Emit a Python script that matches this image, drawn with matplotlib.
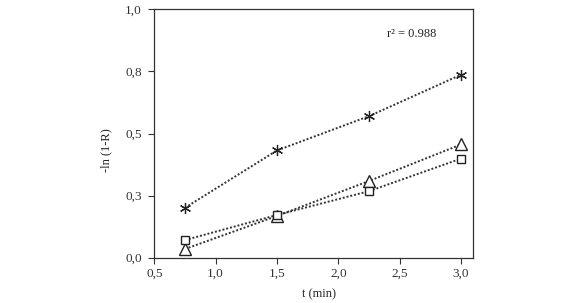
import matplotlib
matplotlib.use('Agg')
import matplotlib.pyplot as plt

t = [0.75, 1.5, 2.25, 3.0]
star_vals = [0.201, 0.432, 0.570, 0.737]
tri_vals = [0.035, 0.168, 0.309, 0.456]
sq_vals = [0.071, 0.172, 0.268, 0.399]

xticks = [0.5, 1.0, 1.5, 2.0, 2.5, 3.0]
xtick_labels = ['0,5', '1,0', '1,5', '2,0', '2,5', '3,0']
yticks = [0.0, 0.25, 0.5, 0.75, 1.0]
ytick_labels = ['0,0', '0,3', '0,5', '0,8', '1,0']

plt.rcParams['font.family'] = ['Liberation Serif', 'DejaVu Serif']

fig = plt.figure(figsize=(5.8, 3.03), dpi=100)
ax = fig.add_axes([0.266, 0.1495, 0.549, 0.8195])

line_kw = dict(color='#333333', linestyle=(0, (1, 1)), linewidth=1.4,
               markerfacecolor='white', markeredgecolor='#222222')
ax.plot(t, star_vals, marker=(6, 2, 0), markersize=8, markeredgewidth=0.9, **line_kw)
ax.plot(t, tri_vals, marker='^', markersize=8, markeredgewidth=1.0, **line_kw)
ax.plot(t, sq_vals, marker='s', markersize=6, markeredgewidth=1.0, **line_kw)

ax.set_xlim(0.5, 3.095)
ax.set_ylim(0.0, 1.0)
ax.set_xticks(xticks)
ax.set_xticklabels(xtick_labels)
ax.set_yticks(yticks)
ax.set_yticklabels(ytick_labels)
ax.tick_params(direction='out', length=4, width=0.8, labelsize=9.5, colors='#333333')
ax.tick_params(axis='y', pad=5)
for s in ax.spines.values():
    s.set_color('#333333')
    s.set_linewidth(0.9)

ax.set_xlabel('t (min)', fontsize=9, color='#222222', va='center')
ax.xaxis.set_label_coords(0.516, -0.146)
ax.set_ylabel('-ln (1-R)', fontsize=9, color='#222222', va='center')
ax.yaxis.set_label_coords(-0.150, 0.434)
ax.text(2.40, 0.90, 'r² = 0.988', fontsize=9, color='#222222', va='center')

fig.savefig('out.png', dpi=100)
